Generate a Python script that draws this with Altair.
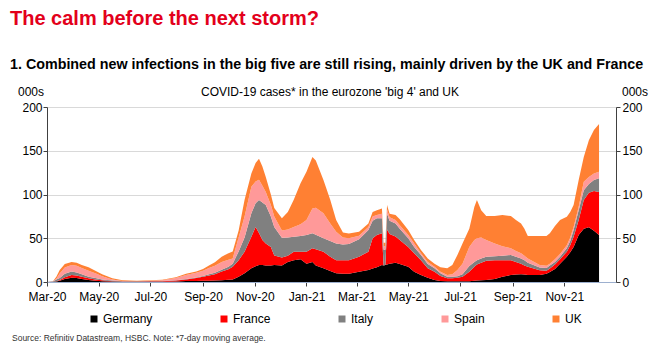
import altair as alt
import pandas as pd

FONT = "Liberation Sans"

dates = [
    "2020-03-01", "2020-03-08", "2020-03-12", "2020-03-16", "2020-03-22", "2020-03-30", "2020-04-05", "2020-04-11", "2020-04-19", "2020-04-27",
    "2020-05-05", "2020-05-17", "2020-05-29", "2020-06-15", "2020-07-01", "2020-07-15", "2020-07-31", "2020-08-12", "2020-08-24", "2020-09-01",
    "2020-09-08", "2020-09-15", "2020-09-23", "2020-10-01", "2020-10-06", "2020-10-13", "2020-10-20", "2020-10-28", "2020-11-02", "2020-11-06",
    "2020-11-10", "2020-11-14", "2020-11-20", "2020-11-24", "2020-12-03", "2020-12-10", "2020-12-17", "2020-12-25", "2021-01-01", "2021-01-08",
    "2021-01-12", "2021-01-21", "2021-01-29", "2021-02-05", "2021-02-13", "2021-02-20", "2021-03-04", "2021-03-15", "2021-03-20", "2021-03-25",
    "2021-03-31", "2021-04-02", "2021-04-04", "2021-04-06", "2021-04-09", "2021-04-16", "2021-04-21", "2021-05-01", "2021-05-08", "2021-05-16",
    "2021-05-24", "2021-06-01", "2021-06-08", "2021-06-16", "2021-06-22", "2021-06-28", "2021-07-04", "2021-07-12", "2021-07-18", "2021-07-21",
    "2021-07-26", "2021-08-01", "2021-08-11", "2021-08-20", "2021-08-30", "2021-09-05", "2021-09-11", "2021-09-15", "2021-09-19", "2021-10-03",
    "2021-10-11", "2021-10-15", "2021-10-21", "2021-10-27", "2021-11-04", "2021-11-08", "2021-11-12", "2021-11-18", "2021-11-24", "2021-11-30",
    "2021-12-06", "2021-12-12",
]

# thousands of new cases per day (7-day average)
germany = [
    0, 0.2, 0.5, 1.5, 3.5, 5.0, 4.5, 3.5, 2.3, 1.5,
    1.0, 0.6, 0.4, 0.3, 0.4, 0.4, 0.7, 1.1, 1.2, 1.3,
    1.4, 1.6, 2.0, 2.5, 3.0, 6.0, 10.0, 15.6, 18.0, 19.4,
    19.5, 19.0, 19.0, 19.4, 19.0, 23.0, 25.0, 26.0, 21.0, 23.0,
    19.0, 15.6, 12.5, 10.0, 9.5, 9.5, 11.8, 13.7, 15.5, 17.0,
    19.4, 19.0, 19.5, 20.0, 21.0, 22.0, 20.6, 17.5, 11.8, 8.0,
    5.0, 2.3, 1.2, 0.8, 0.8, 0.8, 0.9, 1.0, 1.3, 1.6,
    2.0, 2.3, 3.5, 6.0, 8.0, 8.5, 9.0, 8.5, 8.0, 8.0,
    9.5, 11.5, 15.0, 21.0, 29.0, 34.0, 40.0, 53.7, 61.0, 62.5,
    58.7, 53.7,
]
france = [
    0, 0.1, 0.5, 0.8, 2.0, 3.0, 3.0, 2.5, 1.9, 1.5,
    1.0, 0.4, 0.3, 0.3, 0.5, 0.6, 1.1, 1.9, 3.3, 4.7,
    6.1, 7.4, 10.0, 12.0, 14.5, 19.0, 24.6, 36.2, 45.0, 36.6,
    28.5, 25.0, 21.0, 11.0, 9.0, 7.0, 9.6, 8.6, 13.6, 15.5,
    18.5, 19.0, 16.5, 15.0, 15.5, 15.5, 17.2, 20.9, 34.5, 36.7,
    36.2, 0, 0, 40.0, 34.0, 30.0, 27.4, 22.5, 21.0, 17.0,
    10.6, 9.5, 5.7, 3.4, 3.4, 4.2, 5.1, 10.8, 16.2, 18.4,
    20.0, 22.1, 21.5, 19.0, 17.0, 14.5, 12.0, 10.5, 9.5, 5.5,
    3.5, 4.0, 5.0, 5.0, 5.6, 8.0, 11.8, 17.3, 32.7, 39.5,
    45.3, 49.3,
]
italy = [
    0, 0.3, 1.8, 2.3, 4.0, 4.0, 3.5, 3.0, 1.8, 1.5,
    1.0, 0.8, 0.2, 0.2, 0.2, 0.2, 0.3, 0.5, 0.7, 1.0,
    1.3, 1.5, 2.0, 3.0, 3.5, 10.0, 16.4, 26.7, 27.0, 37.7,
    43.0, 44.0, 35.0, 32.6, 22.5, 21.0, 17.2, 17.9, 19.1, 17.1,
    16.5, 15.4, 18.0, 19.0, 18.0, 18.5, 20.0, 24.8, 20.0, 19.1,
    17.2, 18.0, 17.5, 18.0, 15.0, 15.0, 13.0, 10.0, 7.2, 6.0,
    5.0, 3.8, 3.1, 1.8, 1.8, 1.5, 3.0, 6.5, 5.5, 5.0,
    5.0, 4.6, 4.5, 5.0, 6.0, 6.0, 6.0, 6.0, 4.5, 3.0,
    3.0, 3.5, 3.0, 3.0, 3.9, 5.0, 7.6, 11.0, 11.3, 10.0,
    12.6, 15.5,
]
spain = [
    0, 0.2, 1.0, 5.1, 7.0, 7.5, 7.5, 7.0, 7.0, 5.5,
    3.5, 1.2, 0.2, 0.2, 0.4, 0.8, 2.4, 4.5, 5.3, 6.0,
    7.2, 8.0, 9.0, 8.0, 6.0, 16.0, 24.0, 30.5, 25.0, 23.3,
    19.0, 15.0, 13.0, 12.0, 8.5, 9.0, 11.2, 13.5, 17.3, 28.4,
    31.0, 28.5, 20.0, 13.5, 8.0, 6.5, 4.0, 3.6, 5.0, 3.8,
    5.2, 4.0, 4.0, 5.0, 4.0, 4.0, 4.0, 3.7, 4.0, 1.8,
    2.4, 1.9, 1.8, 2.0, 3.0, 7.2, 12.0, 21.7, 25.0, 25.0,
    24.0, 19.0, 14.5, 11.0, 7.5, 6.5, 5.8, 5.0, 5.0, 3.0,
    2.5, 2.0, 3.0, 3.0, 3.5, 4.0, 3.6, 4.0, 9.6, 8.0,
    7.4, 7.5,
]
uk = [
    0, 0.2, 2.2, 4.0, 4.1, 3.5, 3.5, 3.4, 3.8, 3.0,
    2.3, 1.2, 0.9, 0.4, 0.5, 0.6, 1.0, 1.5, 1.5, 2.0,
    3.0, 4.0, 6.0, 7.5, 8.0, 8.0, 19.0, 15.0, 21.0, 24.0,
    22.0, 17.0, 12.0, 9.6, 14.0, 20.0, 31.0, 47.0, 55.0, 59.0,
    54.0, 38.1, 27.0, 13.5, 5.5, 5.5, 4.5, 4.0, 5.0, 5.4,
    6.0, 4.0, 4.0, 5.0, 4.0, 5.6, 6.8, 5.7, 4.0, 3.8,
    4.0, 3.5, 5.0, 7.6, 10.4, 17.2, 23.0, 21.0, 38.0, 43.7,
    31.0, 27.4, 31.4, 35.6, 36.9, 35.5, 34.2, 31.0, 25.6, 33.1,
    34.1, 34.6, 38.0, 39.0, 32.6, 29.0, 25.0, 30.6, 28.4, 42.0,
    49.7, 54.6,
]

countries = ["Germany", "France", "Italy", "Spain", "UK"]
colors = ["#000000", "#FF0000", "#808080", "#FF9999", "#FF8033"]
series = {"Germany": germany, "France": france, "Italy": italy, "Spain": spain, "UK": uk}

y_ticks = [0, 50, 100, 150, 200]
x_tick_months = [(2020, 3), (2020, 5), (2020, 7), (2020, 9), (2020, 11), (2021, 1),
                 (2021, 3), (2021, 5), (2021, 7), (2021, 9), (2021, 11)]

rows = []
for i, c in enumerate(countries):
    for d, v in zip(dates, series[c]):
        rows.append({"date": d, "country": c, "value": v, "ord": i})
df = pd.DataFrame(rows)
df["date"] = pd.to_datetime(df["date"])

x_vals = [alt.DateTime(year=y, month=m, date=1) for y, m in x_tick_months]
x_dom = [alt.DateTime(year=2020, month=3, date=1), alt.DateTime(year=2022, month=1, date=1)]

area = alt.Chart(df).mark_area(interpolate="linear").encode(
    x=alt.X("date:T", scale=alt.Scale(domain=x_dom),
            axis=alt.Axis(values=x_vals, format="%b-%y", title=None, grid=False,
                          domainColor="#9DB0CF", domainWidth=1, tickColor="#404040",
                          tickSize=4, labelPadding=5, labelFont=FONT, labelFontSize=12,
                          labelColor="#000000", labelOverlap=False, labelFlush=False,
                          labelAlign="center")),
    y=alt.Y("value:Q", stack="zero", scale=alt.Scale(domain=[0, 200], nice=False),
            axis=alt.Axis(values=y_ticks, title=None, orient="left", grid=True,
                          gridColor="#D9D9D9", gridWidth=1, domainColor="#404040",
                          tickColor="#404040", tickSize=4, labelPadding=1,
                          labelFont=FONT, labelFontSize=12, labelColor="#000000")),
    color=alt.Color("country:N", scale=alt.Scale(domain=countries, range=colors),
                    legend=alt.Legend(orient="none", legendX=41, legendY=206,
                                      direction="horizontal", title=None,
                                      symbolType="square", symbolSize=49,
                                      symbolStrokeWidth=0, symbolOpacity=1,
                                      labelFont=FONT, labelFontSize=12, labelOffset=3,
                                      labelColor="#000000", columnPadding=65)),
    order=alt.Order("ord:Q", sort="ascending"),
)

right_axis = alt.Chart(pd.DataFrame({"v": [0]})).mark_point(opacity=0).encode(
    y=alt.Y("v:Q", scale=alt.Scale(domain=[0, 200], nice=False),
            axis=alt.Axis(values=y_ticks, title=None, orient="right", grid=False,
                          domainColor="#404040", tickColor="#404040", tickSize=4,
                          labelPadding=2, labelFont=FONT, labelFontSize=12,
                          labelColor="#000000")),
)


def label(txt, x, y, size, weight="normal", color="#000000", align="left"):
    return alt.Chart(pd.DataFrame({"t": [txt]})).mark_text(
        align=align, baseline="alphabetic", fontSize=size, fontWeight=weight,
        color=color, font=FONT,
    ).encode(text="t:N", x=alt.value(x), y=alt.value(y))


texts = [
    label("The calm before the next storm?", -37, -82, 20, "bold", "#E3001B"),
    label("1. Combined new infections in the big five are still rising, mainly driven by the UK and France",
          -37, -38, 14.3, "bold"),
    label("COVID-19 cases* in the eurozone 'big 4' and UK", 283, -11, 12, align="center"),
    label("000s", -29, -11, 12),
    label("000s", 575, -11, 12),
    label("Source: Refinitiv Datastream, HSBC. Note: *7-day moving average.", -35, 234, 8.5,
          color="#333333"),
]

chart = alt.layer(area, right_axis, *texts).resolve_scale(y="independent").properties(
    width=569, height=175,
    padding={"left": 47, "top": 107, "right": 44, "bottom": 72},
    autosize=alt.AutoSizeParams(type="none"),
    background="white",
).configure_view(stroke=None)

chart.save("out.html", embed_options={"renderer": "svg", "actions": False})
